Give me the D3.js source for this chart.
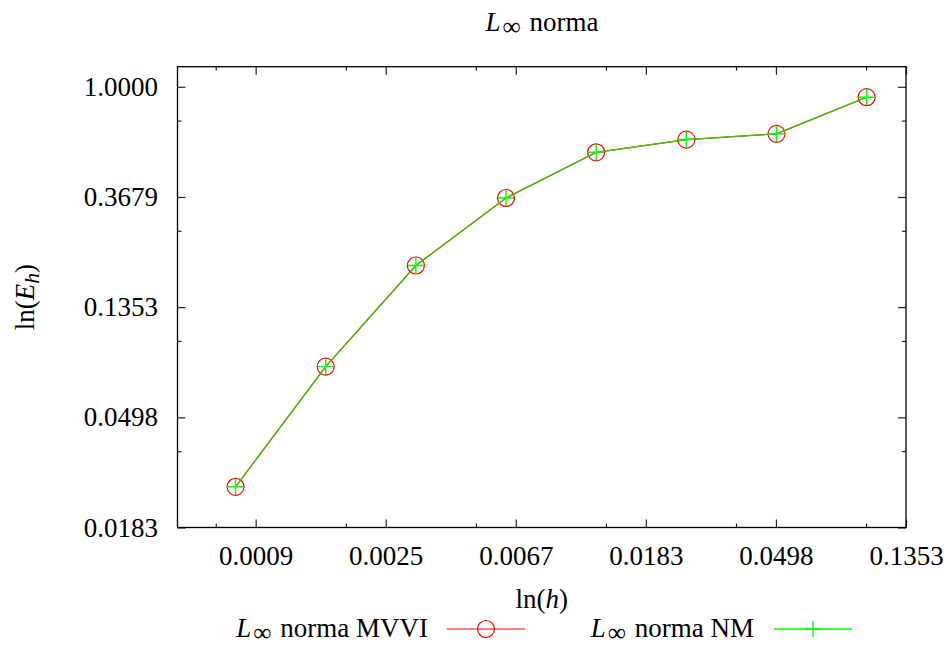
<!DOCTYPE html>
<html>
<head>
<meta charset="utf-8">
<script src="https://cdn.jsdelivr.net/npm/d3@7"></script>
<style>
html,body{margin:0;padding:0;background:#fff;}
svg text{font-family:'Liberation Serif','Times New Roman',Times,'DejaVu Serif',serif !important;}
</style>
</head>
<body>
<svg id="chart" width="951" height="648"></svg>
<script>
// ---- data ----
const hValues = [0.00078125, 0.0015625, 0.003125, 0.00625, 0.0125, 0.025, 0.05, 0.1];
const errMVVI = [0.0265, 0.0789, 0.1975, 0.3645, 0.5518, 0.6194, 0.6524, 0.9098];
const errNM   = [0.0265, 0.0789, 0.1975, 0.3645, 0.5518, 0.6194, 0.6524, 0.9098];
const xTickValues = [Math.exp(-7), Math.exp(-6), Math.exp(-5), Math.exp(-4), Math.exp(-3), Math.exp(-2)];
const xTickLabels = ["0.0009", "0.0025", "0.0067", "0.0183", "0.0498", "0.1353"];
const yTickValues = [Math.exp(-4), Math.exp(-3), Math.exp(-2), Math.exp(-1), Math.exp(0)];
const yTickLabels = ["0.0183", "0.0498", "0.1353", "0.3679", "1.0000"];
const xMinorValues = [2*Math.exp(-8), 2*Math.exp(-7), 2*Math.exp(-6), 2*Math.exp(-5), 2*Math.exp(-4), 2*Math.exp(-3)];
const yMinorValues = [2*Math.exp(-4), 2*Math.exp(-3), 2*Math.exp(-2), 2*Math.exp(-1)];
const xDomain = [0.0005, Math.exp(-2)];
const yDomain = [Math.exp(-4), 1.2];

const svg = d3.select("#chart");
const L = 177.5, R = 906, T = 66.7, B = 527.5;
const x = d3.scaleLog().domain(xDomain).range([L, R]);
const y = d3.scaleLog().domain(yDomain).range([B, T]);
const FS = 27;
const FONT = "'Liberation Serif', 'Times New Roman', Times, 'DejaVu Serif', serif";

// ticks (inward, on all four sides)
function tickAxis(axisFn, scale, vals, size, transform){
  const g = svg.append("g").attr("transform", transform)
    .call(axisFn(scale).tickValues(vals).tickSizeInner(-size).tickSizeOuter(0).tickFormat(""));
  g.select(".domain").remove();
  g.selectAll("line").attr("stroke", "#222").attr("stroke-width", 1.2);
  g.selectAll("text").remove();
  return g;
}
tickAxis(d3.axisBottom, x, xTickValues, 8, `translate(0,${B})`);
tickAxis(d3.axisBottom, x, xMinorValues, 4, `translate(0,${B})`);
tickAxis(d3.axisTop, x, xTickValues, 8, `translate(0,${T})`);
tickAxis(d3.axisTop, x, xMinorValues, 4, `translate(0,${T})`);
tickAxis(d3.axisLeft, y, yTickValues, 8, `translate(${L},0)`);
tickAxis(d3.axisLeft, y, yMinorValues, 4, `translate(${L},0)`);
tickAxis(d3.axisRight, y, yTickValues, 8, `translate(${R},0)`);
tickAxis(d3.axisRight, y, yMinorValues, 4, `translate(${R},0)`);

// tick labels
const xl = svg.append("g").attr("transform", `translate(0,${B})`)
  .call(d3.axisBottom(x).tickValues(xTickValues).tickSize(0)
    .tickFormat((d,i)=>xTickLabels[i]));
xl.select(".domain").remove();
xl.attr("font-family", FONT).attr("font-size", FS);
xl.selectAll("text").attr("y", 37.5).attr("dy", 0).attr("fill", "#000");

const yl = svg.append("g").attr("transform", `translate(${L},0)`)
  .call(d3.axisLeft(y).tickValues(yTickValues).tickSize(0)
    .tickFormat((d,i)=>yTickLabels[i]));
yl.select(".domain").remove();
yl.attr("font-family", FONT).attr("font-size", FS);
yl.selectAll("text").attr("x", -19.5).attr("dy", "0.32em").attr("fill", "#000");

// frame
svg.append("rect").attr("x", L).attr("y", T).attr("width", R-L).attr("height", B-T)
  .attr("fill", "none").attr("stroke", "#000").attr("stroke-width", 1.3);

// series
const ptsA = hValues.map((h,i)=>[h, errMVVI[i]]);
const ptsB = hValues.map((h,i)=>[h, errNM[i]]);
const line = d3.line().x(d=>x(d[0])).y(d=>y(d[1]));
svg.append("path").datum(ptsA).attr("d", line).attr("fill","none")
  .attr("stroke","#ff0000").attr("stroke-width",1.2);
svg.append("g").selectAll("circle").data(ptsA).join("circle")
  .attr("cx", d=>x(d[0])).attr("cy", d=>y(d[1])).attr("r", 8.5)
  .attr("fill","none").attr("stroke","#ff0000").attr("stroke-width",1.2);
svg.append("path").datum(ptsB).attr("d", line).attr("fill","none")
  .attr("stroke","#33cc00").attr("stroke-width",1.3);
svg.append("g").selectAll("path").data(ptsB).join("path")
  .attr("d", d=>`M${x(d[0])-8},${y(d[1])}h16M${x(d[0])},${y(d[1])-8}v16`)
  .attr("fill","none").attr("stroke","#00ff00").attr("stroke-width",1.4);

// text helpers
function txt(xp, yp, anchor){
  return svg.append("text").attr("x", xp).attr("y", yp).attr("text-anchor", anchor)
    .attr("font-family", FONT).attr("font-size", FS).attr("fill", "#000");
}
function lInf(sel, rest){
  sel.append("tspan").attr("font-style","italic").text("L");
  sel.append("tspan").attr("font-size", FS*0.95).attr("dx", 2).attr("dy", 4).text("\u221E");
  sel.append("tspan").attr("dx", 2).attr("dy", -4).text(rest);
}

// title
lInf(txt(542, 31, "middle"), " norma");

// axis titles
const xt = txt((L+R)/2, 608, "middle");
xt.append("tspan").text("ln(");
xt.append("tspan").attr("font-style","italic").text("h");
xt.append("tspan").text(")");

const yt = svg.append("text").attr("transform", `translate(34,${(T+B)/2}) rotate(-90)`)
  .attr("text-anchor","middle").attr("font-family", FONT).attr("font-size", FS).attr("fill","#000");
yt.append("tspan").text("ln(");
yt.append("tspan").attr("font-style","italic").text("E");
yt.append("tspan").attr("font-style","italic").attr("font-size", FS*0.8).attr("dy", 5).text("h");
yt.append("tspan").attr("dy", -5).text(")");

// legend
const legY = 629;
lInf(txt(428, legY+8, "end"), " norma MVVI");
svg.append("line").attr("x1", 447).attr("x2", 525).attr("y1", legY).attr("y2", legY)
  .attr("stroke","#ff0000").attr("stroke-width",1.2);
svg.append("circle").attr("cx", 486).attr("cy", legY).attr("r", 8.5)
  .attr("fill","none").attr("stroke","#ff0000").attr("stroke-width",1.2);

lInf(txt(754, legY+8, "end"), " norma NM");
svg.append("line").attr("x1", 774).attr("x2", 852).attr("y1", legY).attr("y2", legY)
  .attr("stroke","#00ff00").attr("stroke-width",1.3);
svg.append("path").attr("d", `M805,${legY}h16M813,${legY-8}v16`)
  .attr("fill","none").attr("stroke","#00ff00").attr("stroke-width",1.4);
</script>
</body>
</html>
